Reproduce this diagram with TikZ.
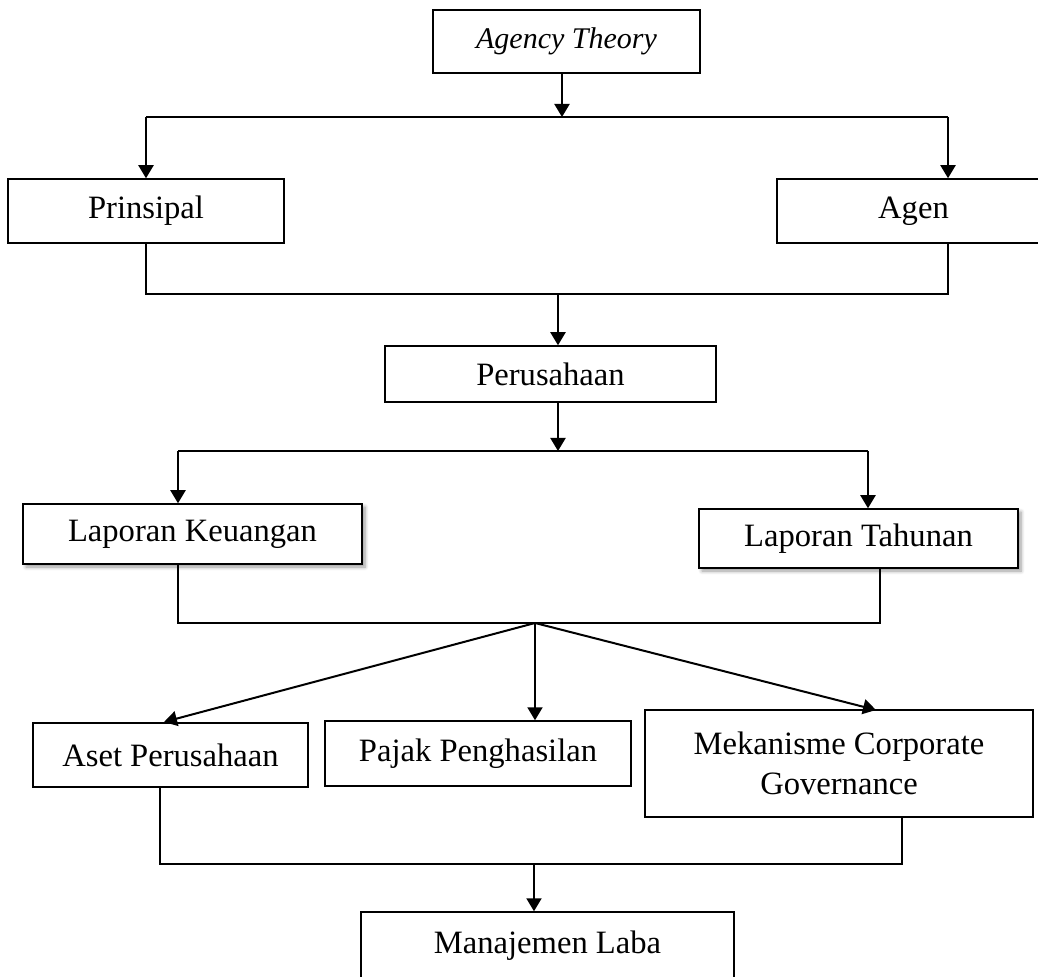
\documentclass[tikz,border=0pt]{standalone}
\usepackage{fontspec}
\setmainfont{Liberation Serif}
\usetikzlibrary{arrows.meta,shadows.blur}
\begin{document}
\begin{tikzpicture}[x=0.5pt,y=-0.5pt,
  box/.style={draw, line width=0.75pt, inner sep=0pt, fill=white,
    font=\fontsize{16.3}{20}\selectfont, align=center},
  arr/.style={line width=1pt, -{Triangle[length=6.5pt,width=7.5pt]}},
  conn/.style={line width=0.8pt},
  shd/.style={blur shadow={shadow xshift=1.5pt, shadow yshift=-1.5pt,
    shadow opacity=40, shadow blur steps=6}}
]
\useasboundingbox (0,0) rectangle (1038,977);
\begin{scope}
\clip (0,0) rectangle (1038,977);
% boxes
\node[box, font=\fontsize{15}{20}\selectfont\itshape, minimum width=133.5pt, minimum height=31.5pt] (agency) at (566.5,41.5) {Agency Theory};
\node[box, minimum width=138pt, minimum height=32pt] (prinsipal) at (146,211) {Prinsipal};
\node[box, minimum width=136.5pt, minimum height=32pt] (agen) at (913.5,211) {Agen};
\node[box, minimum width=165.5pt, minimum height=28pt] (perusahaan) at (550.5,374) {Perusahaan};
\node[box, shd, minimum width=169.5pt, minimum height=30pt] (lk) at (192.5,534) {Laporan Keuangan};
\node[box, shd, minimum width=159.5pt, minimum height=29.5pt] (lt) at (858.5,538.5) {Laporan Tahunan};
\node[box, minimum width=137.5pt, minimum height=32pt] (aset) at (170.5,755) {Aset Perusahaan};
\node[box, minimum width=153pt, minimum height=32.5pt] (pajak) at (478,753.5) {Pajak Penghasilan};
\node[box, minimum width=194pt, minimum height=53.5pt] (meka) at (839,763.5) {Mekanisme Corporate\\Governance};
\node[box, minimum width=186.5pt, minimum height=34pt] (laba) at (547.5,946) {Manajemen Laba};

% junction coordinates
\coordinate (j1) at (562,117);
\coordinate (j1l) at (146,117);
\coordinate (j1r) at (948,117);
\coordinate (c1l) at (146,294);
\coordinate (c1r) at (948,294);
\coordinate (c1m) at (558,294);
\coordinate (j2) at (558,451);
\coordinate (j2l) at (178,451);
\coordinate (j2r) at (868,451);
\coordinate (c2l) at (178,623);
\coordinate (c2r) at (880,623);
\coordinate (c2m) at (535,623);
\coordinate (ta) at (164,722);
\coordinate (tm) at (876,710);
\coordinate (c3l) at (160,864);
\coordinate (c3r) at (902,864);
\coordinate (c3m) at (534,864);

% level 1
\draw[arr] (agency.south -| j1) -- (j1);
\draw[conn] (j1l) -- (j1r);
\draw[arr] (j1l) -- (prinsipal.north -| j1l);
\draw[arr] (j1r) -- (agen.north -| j1r);
% collector 1
\draw[conn] (prinsipal.south -| c1l) -- (c1l) -- (c1r) -- (agen.south -| c1r);
\draw[arr] (c1m) -- (perusahaan.north -| c1m);
% level 2
\draw[arr] (perusahaan.south -| j2) -- (j2);
\draw[conn] (j2l) -- (j2r);
\draw[arr] (j2l) -- (lk.north -| j2l);
\draw[arr] (j2r) -- (lt.north -| j2r);
% collector 2
\draw[conn] (lk.south -| c2l) -- (c2l) -- (c2r) -- (lt.south -| c2r);
\draw[arr] (c2m) -- (ta);
\draw[arr] (c2m) -- (pajak.north -| c2m);
\draw[arr] (c2m) -- (tm);
% collector 3
\draw[conn] (aset.south -| c3l) -- (c3l) -- (c3r) -- (meka.south -| c3r);
\draw[arr] (c3m) -- (laba.north -| c3m);
\end{scope}
\end{tikzpicture}
\end{document}
